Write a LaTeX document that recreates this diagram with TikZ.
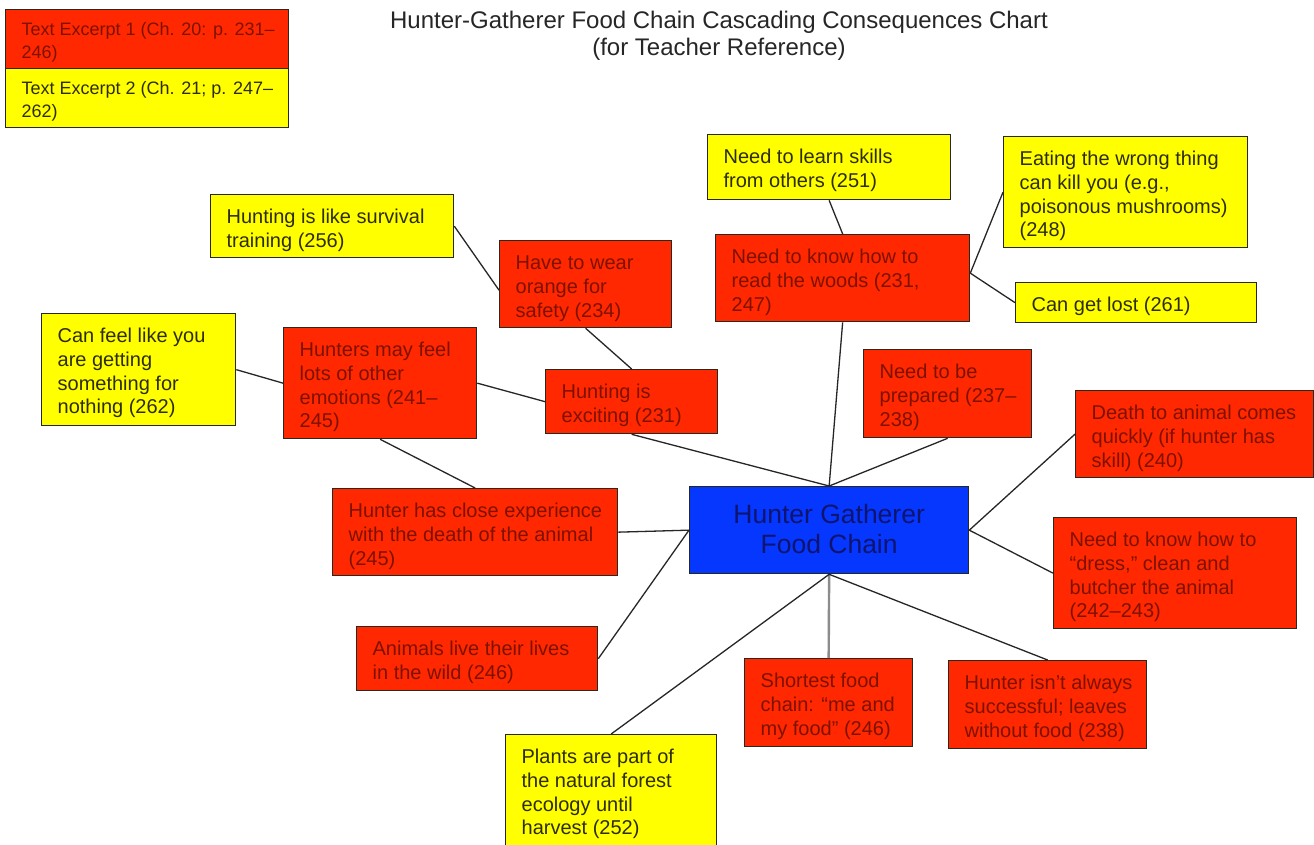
\documentclass[tikz,border=0pt]{standalone}
\usepackage{fontspec}
\setmainfont{Liberation Sans}
\definecolor{redf}{RGB}{255,40,0}
\definecolor{redt}{RGB}{125,18,0}
\definecolor{yelf}{RGB}{255,255,0}
\definecolor{yelt}{RGB}{45,45,10}
\definecolor{bluef}{RGB}{5,55,255}
\definecolor{bluet}{RGB}{15,20,110}
\definecolor{bordc}{RGB}{40,40,30}
\newcommand{\bxt}[3]{\parbox[c][#2][t]{#1}{\raggedright\leftskip=16pt\relax\rule{0pt}{29pt}#3}}
\newcommand{\lgt}[3]{\parbox[c][#2][t]{#1}{\raggedright\leftskip=16pt\relax\rule{0pt}{25.5pt}#3}}
\tikzset{
  boxbase/.style={draw=bordc, line width=1.3pt, inner sep=0pt, anchor=north west,
    font=\fontsize{20}{23.7}\selectfont},
  rbox/.style={boxbase, fill=redf, text=redt},
  ybox/.style={boxbase, fill=yelf, text=yelt},
  lgbox/.style={font=\fontsize{18}{23}\selectfont},
  cbox/.style={boxbase, fill=bluef, text=bluet, font=\fontsize{26.5}{30}\selectfont},
  conn/.style={line width=1.3pt, draw=black!85},
  gconn/.style={line width=2.4pt, draw=black!45},
  ttl/.style={font=\fontsize{24}{27}\selectfont, text=black!85, anchor=base, inner sep=0pt}
}
\begin{document}
\begin{tikzpicture}[x=1pt,y=-1pt]
\fill[white] (0,0) rectangle (1314,844);
\clip (0,0) rectangle (1314,844);

% title
\node[ttl] (title1) at (719,28) {Hunter-Gatherer Food Chain Cascading Consequences Chart};
\node[ttl] (title2) at (719,55) {(for Teacher Reference)};

% legend
\node[rbox,lgbox] (leg1) at (5,9) {\lgt{283pt}{59pt}{Text Excerpt 1 (Ch. 20: p. 231–\\246)}};
\node[ybox,lgbox] (leg2) at (5,68) {\lgt{283pt}{59pt}{Text Excerpt 2 (Ch. 21; p. 247–\\262)}};

% hub
\node[cbox] (hub) at (689,486) {\parbox[c][87pt][t]{279pt}{\centering\rule{0pt}{37pt}Hunter Gatherer\\Food Chain}};

% boxes
\node[ybox] (n1) at (210,194) {\bxt{243pt}{63pt}{Hunting is like survival\\training (256)}};
\node[rbox] (n2) at (499,240) {\bxt{172pt}{87pt}{Have to wear\\orange for\\safety (234)}};
\node[ybox] (n3) at (707,134) {\bxt{243pt}{65pt}{Need to learn skills\\from others (251)}};
\node[rbox] (n4) at (715,234) {\bxt{254pt}{87pt}{Need to know how to\\read the woods (231,\\247)}};
\node[ybox] (n5) at (1003,136) {\bxt{244pt}{111pt}{Eating the wrong thing\\can kill you (e.g.,\\poisonous mushrooms)\\(248)}};
\node[ybox] (n6) at (1015,282) {\bxt{241pt}{40pt}{\vspace*{-1.5pt}Can get lost (261)}};
\node[ybox] (n7) at (41,313) {\bxt{194pt}{112pt}{Can feel like you\\are getting\\something for\\nothing (262)}};
\node[rbox] (n8) at (283,327) {\bxt{193pt}{111pt}{Hunters may feel\\lots of other\\emotions (241–\\245)}};
\node[rbox] (n9) at (545,369) {\bxt{172pt}{64pt}{Hunting is\\exciting (231)}};
\node[rbox] (n10) at (863,349) {\bxt{168pt}{88pt}{Need to be\\prepared (237–\\238)}};
\node[rbox] (n11) at (1075,390) {\bxt{238pt}{87pt}{Death to animal comes\\quickly (if hunter has\\skill) (240)}};
\node[rbox] (n12) at (332,488) {\bxt{285pt}{87pt}{Hunter has close experience\\with the death of the animal\\(245)}};
\node[rbox] (n13) at (1053,517) {\bxt{243pt}{111pt}{Need to know how to\\“dress,” clean and\\butcher the animal\\(242–243)}};
\node[rbox] (n14) at (356,626) {\bxt{241pt}{64pt}{Animals live their lives\\in the wild (246)}};
\node[rbox] (n15) at (744,658) {\bxt{168pt}{88pt}{Shortest food\\chain: “me and\\my food” (246)}};
\node[rbox] (n16) at (948,660) {\bxt{198pt}{88pt}{Hunter isn’t always\\successful; leaves\\without food (238)}};
\node[ybox] (n17) at (505,734) {\bxt{211pt}{130pt}{Plants are part of\\the natural forest\\ecology until\\harvest (252)}};

% connectors
\draw[conn] (n1.east) -- ([yshift=-6pt]n2.west);
\draw[conn] (n2.south) -- (n9.north);
\draw[conn] (n9.south) -- (hub.north);
\draw[conn] (n8.east) -- (n9.west);
\draw[conn] (n7.east) -- (n8.west);
\draw[conn] (n8.south) -- (n12.north);
\draw[conn] (n3.south) -- (n4.north);
\draw[conn] (n4.south) -- (hub.north);
\draw[conn] ([yshift=5pt]n4.east) -- (n5.west);
\draw[conn] ([yshift=5pt]n4.east) -- (n6.west);
\draw[conn] (n10.south) -- (hub.north);
\draw[conn] (n11.west) -- (hub.east);
\draw[conn] (n12.east) -- (hub.west);
\draw[conn] (n13.west) -- (hub.east);
\draw[conn] (n14.east) -- (hub.west);
\draw[gconn] (hub.south) -- (n15.north);
\draw[conn] (hub.south) -- (n16.north);
\draw[conn] (hub.south) -- (n17.north);
\end{tikzpicture}
\end{document}
